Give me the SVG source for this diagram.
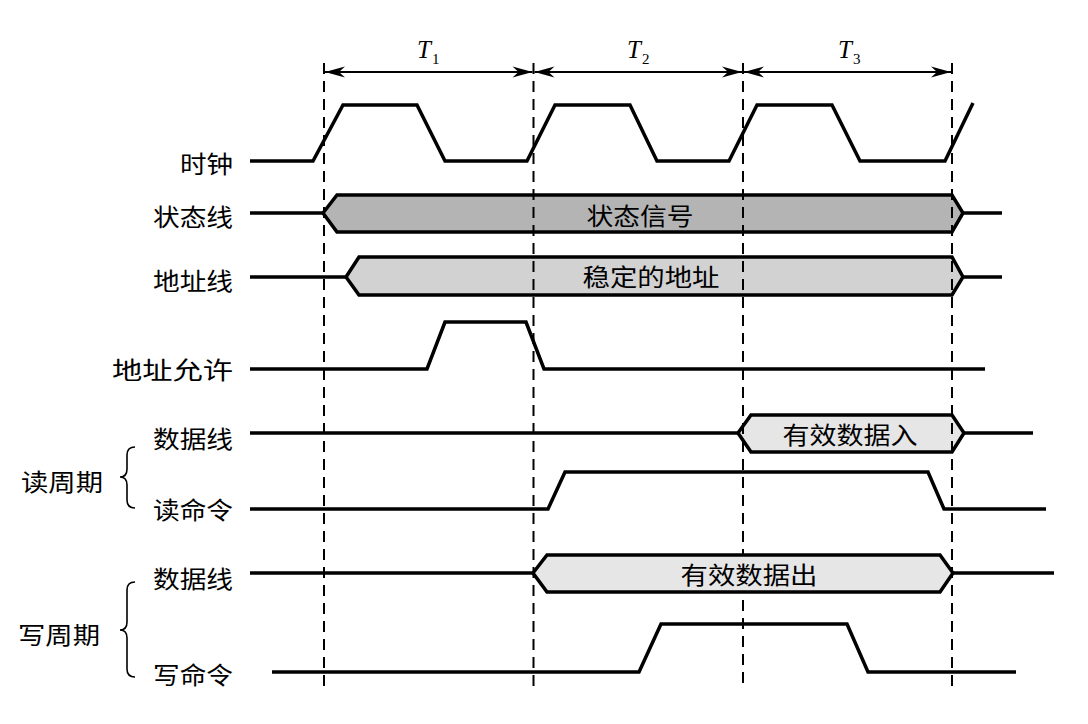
<svg xmlns="http://www.w3.org/2000/svg" width="1088" height="724" viewBox="0 0 1088 724">
<style>
.w{fill:none;stroke:#000;stroke-width:3.5;stroke-linejoin:miter}
.bus{stroke:#000;stroke-width:3.5;stroke-linejoin:miter}
.dash{fill:none;stroke:#000;stroke-width:2;stroke-dasharray:11 7}
.dim{fill:none;stroke:#000;stroke-width:2}
.lbl{font-family:"Noto Sans CJK SC","Noto Sans CJK JP",sans-serif;font-size:24px;fill:#000}
.t{font-family:"Liberation Serif",serif;font-style:italic;font-size:25px;fill:#000}
.sub{font-family:"Liberation Serif",serif;font-size:15px;fill:#000}
.brace{fill:none;stroke:#000;stroke-width:1.6}
</style>
<defs>
<marker id="arr" viewBox="-21 -7 22 14" refX="0" refY="0" markerWidth="22" markerHeight="14" markerUnits="userSpaceOnUse" orient="auto-start-reverse">
<path d="M0,0 L-20,-5.5 L-14,0 L-20,5.5 Z" fill="#000"/>
</marker>
</defs>
<rect width="1088" height="724" fill="#fff"/>

<g id="period-labels">
<text class="t" x="417" y="58">T</text><text class="sub" x="432" y="64">1</text>
<text class="t" x="627" y="58">T</text><text class="sub" x="642" y="64">2</text>
<text class="t" x="838" y="58">T</text><text class="sub" x="853" y="64">3</text>
</g>

<g id="connectors">
<line class="dim" x1="325" y1="72" x2="532.5" y2="72" marker-start="url(#arr)" marker-end="url(#arr)"/>
<line class="dim" x1="534.5" y1="72" x2="742" y2="72" marker-start="url(#arr)" marker-end="url(#arr)"/>
<line class="dim" x1="744" y1="72" x2="951" y2="72" marker-start="url(#arr)" marker-end="url(#arr)"/>
</g>

<g id="clock">
<text class="lbl" x="233" y="173" text-anchor="end" textLength="53" lengthAdjust="spacingAndGlyphs">时钟</text>
<path class="w" d="M250,161 L313,161 L343,105 L417,105 L445,161 L527,161 L555,105 L630,105 L657,161 L729,161 L757,105 L832,105 L860,161 L945,161 L973,103"/>
</g>

<g id="status-line">
<text class="lbl" x="233" y="226" text-anchor="end" textLength="80" lengthAdjust="spacingAndGlyphs">状态线</text>
<path class="w" d="M250,213 L323,213 M963,213 L1002,213"/>
<polygon class="bus" fill="#b4b4b4" points="323,213 337,195 952,195 963,213 952,232 337,232"/>
<text class="lbl" x="640" y="225" text-anchor="middle" textLength="107" lengthAdjust="spacingAndGlyphs">状态信号</text>
</g>

<g id="address-line">
<text class="lbl" x="233" y="290" text-anchor="end" textLength="80" lengthAdjust="spacingAndGlyphs">地址线</text>
<path class="w" d="M250,277 L346,277 M963,277 L1002,277"/>
<polygon class="bus" fill="#d2d2d2" points="346,277 359,257 952,257 963,277 952,295 359,295"/>
<text class="lbl" x="651" y="286" text-anchor="middle" textLength="137" lengthAdjust="spacingAndGlyphs">稳定的地址</text>
</g>

<g id="address-enable">
<text class="lbl" x="233" y="379" text-anchor="end" textLength="121" lengthAdjust="spacingAndGlyphs">地址允许</text>
<path class="w" d="M250,369 L427,369 L445,322 L526,322 L544,369 L985,369"/>
</g>

<g id="read-cycle">
<text class="lbl" x="21" y="491" textLength="82" lengthAdjust="spacingAndGlyphs">读周期</text>
<path class="brace" d="M135,447 Q127,447 127,455 L127,469 Q127,477 120,477 Q127,477 127,485 L127,500 Q127,508 135,508"/>
</g>

<g id="read-data">
<text class="lbl" x="233" y="448" text-anchor="end" textLength="80" lengthAdjust="spacingAndGlyphs">数据线</text>
<path class="w" d="M250,433 L738,433 M964,433 L1033,433"/>
<polygon class="bus" fill="#e6e6e6" points="738,433 751,415 952,415 964,433 952,452 751,452"/>
<text class="lbl" x="850" y="444" text-anchor="middle" textLength="135" lengthAdjust="spacingAndGlyphs">有效数据入</text>
</g>

<g id="read-command">
<text class="lbl" x="233" y="519" text-anchor="end" textLength="80" lengthAdjust="spacingAndGlyphs">读命令</text>
<path class="w" d="M250,509 L548,509 L565,472 L928,472 L944,509 L1046,509"/>
</g>

<g id="write-cycle">
<text class="lbl" x="18" y="644" textLength="82" lengthAdjust="spacingAndGlyphs">写周期</text>
<path class="brace" d="M135,582 Q127,582 127,590 L127,622 Q127,630 120,630 Q127,630 127,638 L127,669 Q127,677 135,677"/>
</g>

<g id="write-data">
<text class="lbl" x="233" y="588" text-anchor="end" textLength="80" lengthAdjust="spacingAndGlyphs">数据线</text>
<path class="w" d="M250,573 L533,573 M953,573 L1054,573"/>
<polygon class="bus" fill="#e6e6e6" points="533,573 547,555 940,555 953,573 940,592 547,592"/>
</g>

<g id="write-command">
<text class="lbl" x="233" y="684" text-anchor="end" textLength="80" lengthAdjust="spacingAndGlyphs">写命令</text>
<path class="w" d="M272,672 L639,672 L661,624 L847,624 L868,672 L1016,672"/>
</g>

<g id="time-markers">
<line class="dash" x1="324" y1="63" x2="324" y2="688"/>
<line class="dash" x1="533.5" y1="63" x2="533.5" y2="688"/>
<line class="dash" x1="743" y1="63" x2="743" y2="555"/>
<line class="dash" x1="743" y1="600" x2="743" y2="688"/>
<line class="dash" x1="952" y1="63" x2="952" y2="688"/>
</g>

<g id="write-data-label">
<text class="lbl" x="749" y="584" text-anchor="middle" textLength="137" lengthAdjust="spacingAndGlyphs">有效数据出</text>
</g>
</svg>
